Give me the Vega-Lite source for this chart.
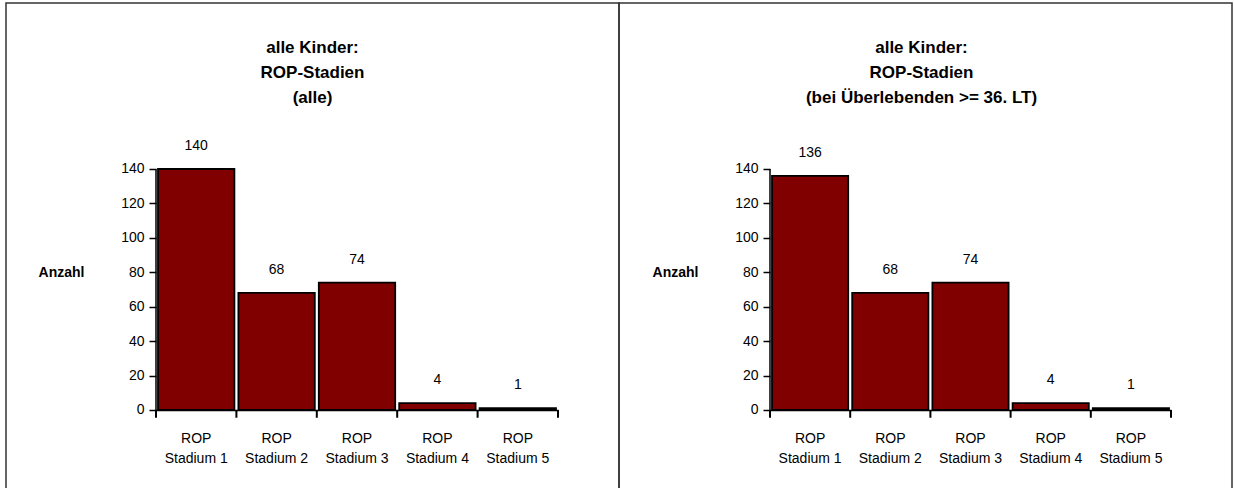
{
  "$schema": "https://vega.github.io/schema/vega-lite/v6.json",
  "padding": {"left": 5, "top": 2, "right": 0, "bottom": 0},
  "background": "white",
  "spacing": 0,
  "bounds": "flush",
  "datasets": {
    "alle": [
      {"stadium": "ROP Stadium 1", "anzahl": 140},
      {"stadium": "ROP Stadium 2", "anzahl": 68},
      {"stadium": "ROP Stadium 3", "anzahl": 74},
      {"stadium": "ROP Stadium 4", "anzahl": 4},
      {"stadium": "ROP Stadium 5", "anzahl": 1}
    ],
    "ueberlebende": [
      {"stadium": "ROP Stadium 1", "anzahl": 136},
      {"stadium": "ROP Stadium 2", "anzahl": 68},
      {"stadium": "ROP Stadium 3", "anzahl": 74},
      {"stadium": "ROP Stadium 4", "anzahl": 4},
      {"stadium": "ROP Stadium 5", "anzahl": 1}
    ]
  },
  "config": {
    "view": {"stroke": "#333333", "strokeWidth": 1.5},
    "font": "Liberation Sans",
    "axis": {"grid": false, "labelFont": "Liberation Sans", "labelFontSize": 14, "labelColor": "#000000", "tickColor": "#000000", "tickWidth": 1.5, "domainColor": "#000000", "domainWidth": 1.5, "titleColor": "#000000", "titleFont": "Liberation Sans"},
    "title": {"font": "Liberation Sans", "fontSize": 17, "fontWeight": "bold", "color": "#000000", "lineHeight": 25, "anchor": "middle", "frame": "group"}
  },
  "hconcat": [
    {
      "width": 613,
      "height": 500,
      "data": {"name": "alle"},
      "title": {"text": ["alle Kinder:", "ROP-Stadien", "(alle)"], "baseline": "top", "offset": -104},
      "encoding": {
        "x": {"field": "stadium", "type": "nominal", "sort": null,
          "scale": {"range": [150, 552], "paddingInner": 0, "paddingOuter": 0},
          "axis": {"orient": "bottom", "offset": -93, "domain": true, "ticks": false, "labelPadding": 21, "labelAngle": 0, "labelOverlap": false, "labelExpr": "[substring(datum.label, 0, 3), substring(datum.label, 4)]", "labelLineHeight": 20, "title": null}}
      },
      "layer": [
        {
          "mark": {"type": "bar", "fill": "#800000", "stroke": "#000000", "strokeWidth": 1.8, "width": {"band": 0.95}},
          "encoding": {
            "y": {"field": "anzahl", "type": "quantitative",
              "scale": {"domain": [-54.03, 236.43], "nice": false, "zero": false},
              "axis": {"orient": "left", "offset": -150, "values": [0, 20, 40, 60, 80, 100, 120, 140], "domain": false, "tickSize": 7, "labelPadding": 5, "title": "Anzahl", "titleAngle": 0, "titleFontWeight": "bold", "titleFontSize": 14, "titleAlign": "center", "titleBaseline": "middle", "titleX": -95, "titleY": 269}},
            "y2": {"datum": 0}
          }
        },
        {
          "mark": {"type": "text", "baseline": "middle", "dy": -23, "fontSize": 14, "color": "#000000"},
          "encoding": {
            "y": {"field": "anzahl", "type": "quantitative"},
            "text": {"field": "anzahl", "type": "quantitative"}
          }
        },
        {
          "mark": {"type": "rule", "stroke": "#000000", "strokeWidth": 2},
          "encoding": {
            "x": {"field": "stadium", "type": "nominal", "bandPosition": 0},
            "y": {"datum": 0, "type": "quantitative"},
            "y2": {"datum": -4.5}
          }
        },
        {
          "data": {"values": [{}]},
          "mark": {"type": "rule", "stroke": "#000000", "strokeWidth": 2},
          "encoding": {
            "x": {"datum": "ROP Stadium 5", "type": "nominal", "bandPosition": 1},
            "y": {"datum": 0, "type": "quantitative"},
            "y2": {"datum": -4.5}
          }
        },
        {
          "data": {"values": [{}]},
          "mark": {"type": "rule", "stroke": "#000000", "strokeWidth": 1.5},
          "encoding": {
            "x": {"datum": "ROP Stadium 1", "type": "nominal", "bandPosition": 0},
            "y": {"datum": 0, "type": "quantitative"},
            "y2": {"datum": 140}
          }
        }
      ]
    },
    {
      "width": 613,
      "height": 500,
      "data": {"name": "ueberlebende"},
      "title": {"text": ["alle Kinder:", "ROP-Stadien", "(bei Überlebenden >= 36. LT)"], "baseline": "top", "offset": -104, "dx": -4},
      "encoding": {
        "x": {"field": "stadium", "type": "nominal", "sort": null,
          "scale": {"range": [151, 552], "paddingInner": 0, "paddingOuter": 0},
          "axis": {"orient": "bottom", "offset": -93, "domain": true, "ticks": false, "labelPadding": 21, "labelAngle": 0, "labelOverlap": false, "labelExpr": "[substring(datum.label, 0, 3), substring(datum.label, 4)]", "labelLineHeight": 20, "title": null}}
      },
      "layer": [
        {
          "mark": {"type": "bar", "fill": "#800000", "stroke": "#000000", "strokeWidth": 1.8, "width": {"band": 0.95}},
          "encoding": {
            "y": {"field": "anzahl", "type": "quantitative",
              "scale": {"domain": [-54.03, 236.43], "nice": false, "zero": false},
              "axis": {"orient": "left", "offset": -151, "values": [0, 20, 40, 60, 80, 100, 120, 140], "domain": false, "tickSize": 7, "labelPadding": 5, "title": "Anzahl", "titleAngle": 0, "titleFontWeight": "bold", "titleFontSize": 14, "titleAlign": "center", "titleBaseline": "middle", "titleX": -95, "titleY": 269}},
            "y2": {"datum": 0}
          }
        },
        {
          "mark": {"type": "text", "baseline": "middle", "dy": -23, "fontSize": 14, "color": "#000000"},
          "encoding": {
            "y": {"field": "anzahl", "type": "quantitative"},
            "text": {"field": "anzahl", "type": "quantitative"}
          }
        },
        {
          "mark": {"type": "rule", "stroke": "#000000", "strokeWidth": 2},
          "encoding": {
            "x": {"field": "stadium", "type": "nominal", "bandPosition": 0},
            "y": {"datum": 0, "type": "quantitative"},
            "y2": {"datum": -4.5}
          }
        },
        {
          "data": {"values": [{}]},
          "mark": {"type": "rule", "stroke": "#000000", "strokeWidth": 2},
          "encoding": {
            "x": {"datum": "ROP Stadium 5", "type": "nominal", "bandPosition": 1},
            "y": {"datum": 0, "type": "quantitative"},
            "y2": {"datum": -4.5}
          }
        },
        {
          "data": {"values": [{}]},
          "mark": {"type": "rule", "stroke": "#000000", "strokeWidth": 1.5},
          "encoding": {
            "x": {"datum": "ROP Stadium 1", "type": "nominal", "bandPosition": 0},
            "y": {"datum": 0, "type": "quantitative"},
            "y2": {"datum": 140}
          }
        }
      ]
    }
  ]
}
